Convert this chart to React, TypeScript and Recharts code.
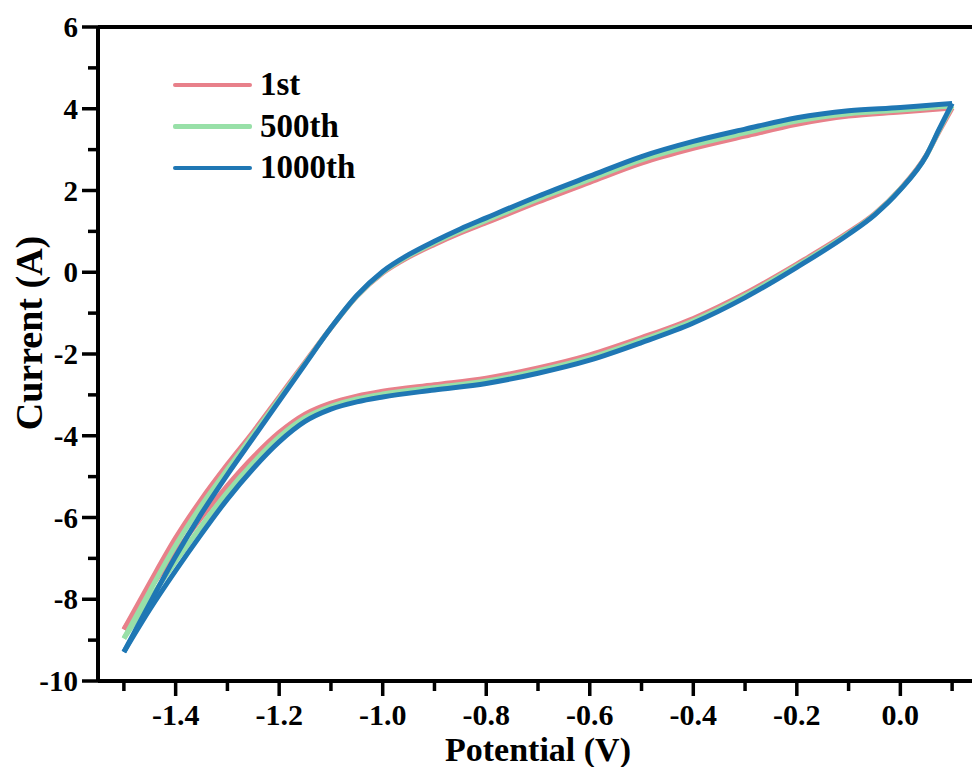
import React from 'react';
import { LineChart, Line, XAxis, YAxis, ReferenceLine, Legend, Label } from 'recharts';

const seriesNames = ['1st', '500th', '1000th'];
const seriesColors = ['#E8808A', '#98E0A8', '#1F77B4'];

// anodic (upper) branch potentials
const anodicV = [-1.5, -1.45, -1.4, -1.35, -1.3, -1.25, -1.2, -1.15, -1.1, -1.05, -1.0, -0.95, -0.9, -0.85, -0.8, -0.7, -0.6, -0.5, -0.4, -0.3, -0.2, -0.1, 0.0, 0.05, 0.1];
const anodic1st = [-8.74, -7.6, -6.5, -5.55, -4.7, -3.9, -3.05, -2.2, -1.36, -0.59, -0.02, 0.37, 0.68, 0.96, 1.21, 1.72, 2.2, 2.67, 3.03, 3.33, 3.62, 3.82, 3.92, 3.97, 4.02];
const anodic500th = [-8.96, -7.8, -6.68, -5.7, -4.82, -3.97, -3.1, -2.23, -1.36, -0.58, 0.0, 0.4, 0.72, 1.01, 1.27, 1.79, 2.27, 2.75, 3.11, 3.41, 3.7, 3.88, 3.97, 4.02, 4.07];
const anodic1000th = [-9.29, -8.1, -6.95, -5.9, -4.95, -4.05, -3.15, -2.25, -1.36, -0.57, 0.02, 0.43, 0.76, 1.06, 1.33, 1.86, 2.35, 2.83, 3.2, 3.5, 3.78, 3.95, 4.03, 4.08, 4.13];

// cathodic (lower) branch potentials
const cathodicV = [-1.5, -1.45, -1.4, -1.35, -1.3, -1.25, -1.2, -1.15, -1.1, -1.05, -1.0, -0.9, -0.8, -0.7, -0.6, -0.5, -0.4, -0.3, -0.2, -0.1, -0.05, 0.0, 0.05, 0.075, 0.1];
const cathodic1st = [-8.74, -7.75, -6.85, -6.0, -5.22, -4.52, -3.92, -3.47, -3.2, -3.03, -2.91, -2.75, -2.59, -2.34, -2.02, -1.6, -1.13, -0.52, 0.2, 0.98, 1.43, 2.04, 2.86, 3.45, 4.02];
const cathodic500th = [-8.96, -8.0, -7.08, -6.2, -5.38, -4.66, -4.03, -3.56, -3.28, -3.1, -2.98, -2.82, -2.66, -2.41, -2.09, -1.66, -1.19, -0.57, 0.16, 0.95, 1.41, 2.03, 2.85, 3.48, 4.07];
const cathodic1000th = [-9.29, -8.25, -7.3, -6.4, -5.55, -4.8, -4.15, -3.65, -3.35, -3.17, -3.05, -2.88, -2.72, -2.47, -2.15, -1.72, -1.24, -0.62, 0.12, 0.93, 1.4, 2.02, 2.85, 3.5, 4.13];

const xTicks = [-1.5, -1.4, -1.3, -1.2, -1.1, -1.0, -0.9, -0.8, -0.7, -0.6, -0.5, -0.4, -0.3, -0.2, -0.1, 0.0, 0.1];
const yTicks = [-10, -9, -8, -7, -6, -5, -4, -3, -2, -1, 0, 1, 2, 3, 4, 5, 6];

const anodicSets = [anodic1st, anodic500th, anodic1000th];
const cathodicSets = [cathodic1st, cathodic500th, cathodic1000th];

const toPoints = (vs: number[], is: number[]) => vs.map((v, k) => ({ v, i: is[k] }));

const FONT = '"Liberation Serif", "Times New Roman", serif';

const XTick = (props: any) => {
  const { x, y, payload } = props;
  const val = payload.value as number;
  const major = Math.abs(Math.round(val * 10)) % 2 === 0;
  return (
    <g>
      <line x1={x} x2={x} y1={y} y2={y + (major ? 15 : 10)} stroke="#000" strokeWidth={3.5} />
      {major && (
        <text x={x} y={y + 44} textAnchor="middle" fontFamily={FONT} fontWeight="bold" fontSize={30} fill="#000">
          {val.toFixed(1)}
        </text>
      )}
    </g>
  );
};

const YTick = (props: any) => {
  const { x, y, payload } = props;
  const val = payload.value as number;
  const major = Math.abs(val) % 2 === 0;
  return (
    <g>
      <line x1={x - (major ? 16 : 10)} x2={x} y1={y} y2={y} stroke="#000" strokeWidth={3.5} />
      {major && (
        <text x={x - 20} y={y + 10} textAnchor="end" fontFamily={FONT} fontWeight="bold" fontSize={29} fill="#000">
          {String(val)}
        </text>
      )}
    </g>
  );
};

const LegendContent = () => (
  <div style={{ fontFamily: FONT, fontWeight: 'bold', fontSize: 33 }}>
    {seriesNames.map((n, k) => (
      <div key={n} style={{ display: 'flex', alignItems: 'center', height: 41.5, lineHeight: '41.5px' }}>
        <span style={{ display: 'inline-block', width: 79, height: 4.5, borderRadius: 2, background: seriesColors[k] }} />
        <span style={{ marginLeft: 8, color: '#000' }}>{n}</span>
      </div>
    ))}
  </div>
);

export default function App() {
  const lines: React.ReactNode[] = [];
  seriesNames.forEach((n, k) => {
    lines.push(
      <Line
        key={n + '-a'}
        data={toPoints(anodicV, anodicSets[k])}
        dataKey="i"
        name={n}
        type="monotone"
        stroke={seriesColors[k]}
        strokeWidth={5}
        dot={false}
        activeDot={false}
        isAnimationActive={false}
      />
    );
    lines.push(
      <Line
        key={n + '-c'}
        data={toPoints(cathodicV, cathodicSets[k])}
        dataKey="i"
        name={n + ' '}
        legendType="none"
        type="monotone"
        stroke={seriesColors[k]}
        strokeWidth={5}
        dot={false}
        activeDot={false}
        isAnimationActive={false}
      />
    );
  });
  return (
    <div style={{ position: 'absolute', left: 0, top: 0, width: 972, height: 767, overflow: 'hidden', background: '#fff' }}>
      <LineChart width={980} height={767} margin={{ top: 27, right: 2, bottom: 0, left: 0 }}>
        <XAxis
          dataKey="v"
          type="number"
          domain={[-1.55, 0.15]}
          allowDataOverflow
          ticks={xTicks}
          interval={0}
          height={86}
          tickSize={0}
          tickMargin={0}
          tickLine={false}
          tick={<XTick />}
          axisLine={{ stroke: '#000', strokeWidth: 4 }}
        >
          <Label
            content={(p: any) => {
              const vb = p.viewBox;
              return (
                <text x={vb.x + vb.width / 2} y={761} textAnchor="middle" fontFamily={FONT} fontWeight="bold" fontSize={34} fill="#000">
                  Potential (V)
                </text>
              );
            }}
          />
        </XAxis>
        <YAxis
          type="number"
          domain={[-10, 6]}
          allowDataOverflow
          ticks={yTicks}
          interval={0}
          width={98}
          tickSize={0}
          tickMargin={0}
          tickLine={false}
          tick={<YTick />}
          axisLine={{ stroke: '#000', strokeWidth: 4 }}
        >
          <Label
            content={() => (
              <text x={0} y={0} transform="translate(42, 333) rotate(-90)" textAnchor="middle" fontFamily={FONT} fontWeight="bold" fontSize={38} fill="#000">
                Current (A)
              </text>
            )}
          />
        </YAxis>
        <ReferenceLine y={6} stroke="#000" strokeWidth={4} ifOverflow="visible" />
        {lines}
        <Legend
          layout="vertical"
          align="center"
          verticalAlign="middle"
          content={<LegendContent />}
          wrapperStyle={{ left: 173, top: 64, width: 'auto', height: 'auto' }}
        />
      </LineChart>
    </div>
  );
}
